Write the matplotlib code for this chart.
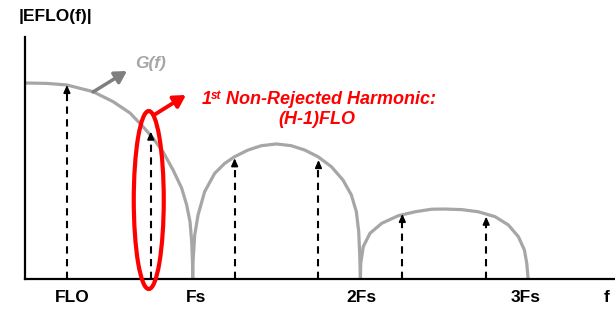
import matplotlib
matplotlib.use('Agg')
import matplotlib.pyplot as plt
from matplotlib.patches import Ellipse

# ---- data (frequency in units of Fs, normalised magnitude) ----
lobe1_f = [0.0, 0.129, 0.249, 0.405, 0.525, 0.626, 0.704, 0.763, 0.823, 0.883, 0.934,
           0.964, 0.984, 0.994, 0.999, 1.0]
lobe1_a = [1.0, 0.998, 0.990, 0.956, 0.905, 0.847, 0.777, 0.719, 0.649, 0.556, 0.464,
           0.378, 0.292, 0.190, 0.083, 0.0]
lobe2_f = [1.0, 1.002, 1.012, 1.032, 1.071, 1.131, 1.191, 1.250, 1.330, 1.409, 1.499,
           1.588, 1.668, 1.747, 1.827, 1.896, 1.946, 1.976, 1.990, 1.996, 2.0]
lobe2_a = [0.0, 0.088, 0.224, 0.327, 0.445, 0.539, 0.590, 0.624, 0.658, 0.680, 0.689,
           0.680, 0.658, 0.624, 0.573, 0.505, 0.429, 0.343, 0.241, 0.122, 0.0]
lobe3_f = [2.0, 2.002, 2.017, 2.057, 2.127, 2.226, 2.326, 2.425, 2.504, 2.604, 2.703,
           2.803, 2.882, 2.942, 2.978, 2.992, 3.0]
lobe3_a = [0.0, 0.080, 0.165, 0.233, 0.284, 0.323, 0.343, 0.356, 0.357, 0.354, 0.343,
           0.318, 0.276, 0.216, 0.148, 0.080, 0.0]

harm_f = [0.25, 0.75, 1.25, 1.75, 2.25, 2.75]
harm_a = [0.99, 0.752, 0.616, 0.607, 0.332, 0.318]

tick_pos = [0.28, 1.02, 2.004, 2.988, 3.47]
tick_labels = ["FLO", "Fs", "2Fs", "3Fs", "f"]

W, H = 615, 312
X0, PXF = 25, 167.7          # axis origin (px) and pixels per Fs
fig = plt.figure(figsize=(W / 100, H / 100), dpi=100)
ax = fig.add_axes([X0 / W, 33 / H, (W - X0) / W, 242 / H])
ax.set_xlim(0, (W - X0) / PXF)
ax.set_ylim(0, 242 / 196)
for s in ['top', 'right']:
    ax.spines[s].set_visible(False)
for s in ['left', 'bottom']:
    ax.spines[s].set_linewidth(1.6)
    ax.spines[s].set_color('black')
ax.set_xticks([])
ax.set_yticks([])

FONT = 'Liberation Sans'
gray = '#A6A6A6'

for fx, ay in [(lobe1_f, lobe1_a), (lobe2_f, lobe2_a), (lobe3_f, lobe3_a)]:
    ax.plot(fx, ay, color=gray, lw=2.3, solid_joinstyle='round', solid_capstyle='butt', zorder=2)

# dashed harmonic arrows
for fx, ay in zip(harm_f, harm_a):
    ax.plot([fx, fx], [0, ay - 0.03], color='black', lw=1.5, linestyle=(0, (3.5, 2.6)), zorder=3)
    ax.annotate('', xy=(fx, ay), xytext=(fx, ay - 0.035),
                arrowprops=dict(arrowstyle='-|>,head_length=0.45,head_width=0.2',
                                color='black', lw=1.2, shrinkA=0, shrinkB=0), zorder=3)

# tick labels
trans = ax.get_xaxis_transform()
for p, lab in zip(tick_pos, tick_labels):
    ax.text(p, -19 / 242, lab, transform=trans, ha='center', va='center',
            fontsize=12.5, fontweight='bold', family=FONT, clip_on=False)

def px(x, y):
    return (x / W, 1 - y / H)

# y label
fig.text(*px(55, 17), '|EFLO(f)|', ha='center', va='center', fontsize=12.5,
         fontweight='bold', family=FONT)

# G(f) annotation
fig.text(*px(151, 64), 'G(f)', ha='center', va='center', fontsize=12.5,
         fontweight='bold', style='italic', family=FONT, color=gray)
ax.annotate('', xy=px(127, 71), xytext=px(93, 92), xycoords='figure fraction',
            textcoords='figure fraction',
            arrowprops=dict(arrowstyle='-|>,head_length=0.7,head_width=0.4',
                            color='#7F7F7F', lw=2.5, shrinkA=0, shrinkB=0))

# red ellipse around the first non-rejected harmonic
ell = Ellipse(xy=(0.738, 0.403), width=30 / PXF, height=178 / 196, fill=False,
              edgecolor='#FF0000', lw=3.0, clip_on=False, zorder=4)
ax.add_patch(ell)
ax.annotate('', xy=px(186, 95), xytext=px(154, 115), xycoords='figure fraction',
            textcoords='figure fraction',
            arrowprops=dict(arrowstyle='-|>,head_length=0.7,head_width=0.4',
                            color='#FF0000', lw=2.8, shrinkA=0, shrinkB=0))

red = '#FF0000'
fig.text(*px(202, 100), '1', ha='left', va='center', fontsize=13,
         fontweight='bold', style='italic', family=FONT, color=red)
fig.text(*px(211, 96), 'st', ha='left', va='center', fontsize=8.5,
         fontweight='bold', style='italic', family=FONT, color=red)
fig.text(*px(226, 100), 'Non-Rejected Harmonic:', ha='left', va='center', fontsize=13,
         fontweight='bold', style='italic', family=FONT, color=red)
fig.text(*px(317, 120), '(H-1)FLO', ha='center', va='center', fontsize=13,
         fontweight='bold', style='italic', family=FONT, color=red)

fig.savefig('out.png', dpi=100)
